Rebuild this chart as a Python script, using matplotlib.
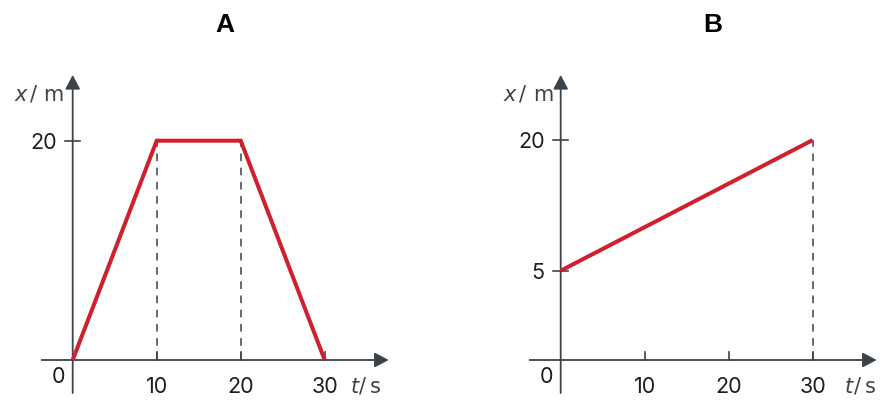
import numpy as np
import matplotlib.pyplot as plt

W, H = 896, 416
ROT = "#D0202E"
ACHSE = "#3C4349"
TEXT = "#1E1E1E"
FONT = "Inter"          # Zahlen
FONT_LAB = "DejaVu Sans"  # x/m, t/s
FS = 15.5

# --- Daten ---
t_a = [0, 10, 20, 30]
x_a = [0, 20, 20, 0]
t_b = [0, 30]
x_b = [5, 20]
xticks_a = [10, 20, 30]
yticks_a = [20]
xticks_b = [10, 20, 30]
yticks_b = [5, 20]
dash_a = [10, 20]
dash_b = [30]

PX_T = 8.4  # Pixel pro Sekunde


def fwd_a(y):
    return np.asarray(y, float) * 10.965


def inv_a(v):
    return np.asarray(v, float) / 10.965


# Diagramm B ist schematisch: 0..5 gestreckt
def fwd_b(y):
    y = np.asarray(y, float)
    return np.where(y <= 5, y * 17.86, 89.3 + (y - 5) * 8.71)


def inv_b(v):
    v = np.asarray(v, float)
    return np.where(v <= 89.3, v / 17.86, 5 + (v - 89.3) / 8.71)


fig = plt.figure(figsize=(W / 100, H / 100), dpi=100)
fig.patch.set_facecolor("white")


def ftext(px, py, s, **kw):
    kw.setdefault("family", FONT)
    fig.text(px / W, 1 - py / H, s, **kw)


def panel(left, ox, oy, fwd, inv, t, x, xt, yt, dashes, titel, lab):
    ax = fig.add_axes([left / W, 0, 448 / W, 1])
    ax.set_yscale("function", functions=(fwd, inv))
    ax.set_xlim((left - ox) / PX_T, (left + 448 - ox) / PX_T)
    ax.set_ylim(float(inv(oy - H)), float(inv(oy)))
    ax.axis("off")

    dx = lambda px: (px - ox) / PX_T
    dy = lambda py: float(inv(oy - py))

    pfeil = dict(arrowstyle="-|>,head_length=0.85,head_width=0.45",
                 color=ACHSE, lw=1.3, shrinkA=0, shrinkB=0,
                 mutation_scale=10)
    ax.annotate("", xy=(dx(ox + 316), 0), xytext=(dx(ox - 31), 0),
                arrowprops=pfeil)
    ax.annotate("", xy=(0, dy(75)), xytext=(0, dy(393)), arrowprops=pfeil)

    # gestrichelte Hilfslinien
    for tv in dashes:
        yv = np.interp(tv, t, x)
        ax.plot([tv, tv], [0, yv], color=ACHSE, lw=1.1,
                dashes=(5, 4.3), zorder=1)

    ax.plot(t, x, color=ROT, lw=2.9, solid_joinstyle="miter",
            solid_capstyle="butt", zorder=3)

    for tv in xt:
        ax.plot([tv, tv], [0, dy(oy - 8)], color=ACHSE, lw=1.2, zorder=2)
        ax.annotate(str(tv), xy=(tv, 0), xytext=(0, -33),
                    textcoords="offset pixels", ha="center",
                    va="baseline", fontsize=FS, color=TEXT, family=FONT)
    for yv in yt:
        ax.plot([dx(ox - 8), dx(ox + 7)], [yv, yv], color=ACHSE, lw=1.2,
                zorder=2)
        ax.annotate(str(yv), xy=(0, yv), xytext=(-16, -8),
                    textcoords="offset pixels", ha="right",
                    va="baseline", fontsize=FS, color=TEXT,
                    family=FONT)
    ax.annotate("0", xy=(0, 0), xytext=(-14, -23), textcoords="offset pixels",
                ha="center", va="baseline", fontsize=FS, color=TEXT,
                family=FONT)

    ftext(ox + 152, 25, titel, ha="center", va="center",
          fontsize=19, fontweight="bold", color="black",
          family="Liberation Sans")

    # Achsenbeschriftungen x/m und t/s
    (xc, sc, mc), (tc, s2, uc) = lab
    for px, py, s, st in [(xc, 101, "x", "italic"), (sc, 101, "/", "normal"),
                          (mc, 101, "m", "normal"), (tc, 393, "t", "italic"),
                          (s2, 393, "/", "normal"), (uc, 393, "s", "normal")]:
        ftext(px, py, s, style=st, fontsize=15, color=ACHSE,
              ha="center", va="baseline", family=FONT_LAB)
    return ax


panel(0, 72.7, 360, fwd_a, inv_a, t_a, x_a, xticks_a, yticks_a, dash_a,
      "A", ((20.5, 33, 53), (355, 362, 375.5)))
panel(448, 560.7, 360, fwd_b, inv_b, t_b, x_b, xticks_b, yticks_b, dash_b,
      "B", ((510, 522.5, 543), (849, 857, 870.5)))

fig.savefig("out.png", dpi=100, facecolor="white")
